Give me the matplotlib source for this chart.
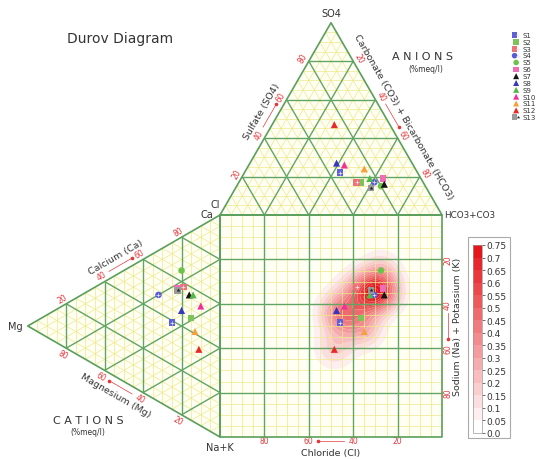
import numpy as np
import matplotlib
matplotlib.use("Agg")
import matplotlib.pyplot as plt
from matplotlib.colors import LinearSegmentedColormap, BoundaryNorm
from matplotlib.patches import Polygon, Rectangle
from matplotlib.cm import ScalarMappable
from matplotlib.legend_handler import HandlerTuple

# ---- sample chemistry (% meq/l) ----
samples = [f"S{i}" for i in range(1, 14)]
so4  = [22, 17, 17, 17, 15, 19, 16, 27, 19, 26, 24, 47, 14]
cl   = [35, 28, 30, 22, 20, 17, 18, 34, 23, 31, 23, 25, 25]
hco3 = [43, 55, 53, 61, 65, 64, 66, 39, 58, 43, 53, 28, 61]
ca   = [39, 46, 58, 48, 65, 56, 56, 47, 57, 54, 41, 34, 55]
mg   = [25, 15, 19, 32, 20, 22, 16, 20, 14, 10, 13, 11, 22]
nak  = [36, 39, 23, 20, 15, 22, 28, 33, 29, 36, 46, 55, 23]

tick_values = [20, 40, 60, 80]
cbar_levels = [0.0, 0.05, 0.1, 0.15, 0.2, 0.25, 0.3, 0.35, 0.4, 0.45,
               0.5, 0.55, 0.6, 0.65, 0.7, 0.75]
cbar_labels = ["0.0", "0.05", "0.1", "0.15", "0.2", "0.25", "0.3", "0.35",
               "0.4", "0.45", "0.5", "0.55", "0.6", "0.65", "0.7", "0.75"]

markers = ['s', 's', 's', 'o', 'o', 's', '^', '^', '^', '^', '^', '^', 's']
colors = ['#5f5fd6', '#7cc35a', '#f07272', '#5a5ad6', '#6cc24a', '#f06cb6',
          '#151515', '#3636c0', '#52b848', '#ec3399', '#f5a040', '#e62a2a',
          '#9a9a9a']
overlays = ['+', None, '+', '+', None, None, None, None, None, None, None,
            None, '*']

# ---- page geometry: 1 diagram unit = 2.22 px, square spans 0..100 ----
W, H, DPI = 537, 460, 100
PX = 2.22
X0, Y0 = 220, 216
R3 = np.sqrt(3) / 2

fig = plt.figure(figsize=(W / DPI, H / DPI), dpi=DPI)
ax = fig.add_axes([0, 0, 1, 1])
ax.set_xlim(-X0 / PX, (W - X0) / PX)
ax.set_ylim(-(H - Y0) / PX, Y0 / PX)
ax.axis('off')

MAJOR = dict(color='#62a562', lw=1.0, zorder=4, solid_capstyle='butt')
MINOR = dict(color='#eee98c', lw=0.5, zorder=3, solid_capstyle='butt')
RED = '#e4383c'
TXT = '#333333'


def seg(p, q, major):
    ax.plot([p[0], q[0]], [p[1], q[1]], **(MAJOR if major else MINOR))


def anion_xy(s, c, h):
    t = s + c + h
    s, h = 100 * s / t, 100 * h / t
    return h + s / 2, R3 * s


def cation_xy(a, m, n):
    t = a + m + n
    m, n = 100 * m / t, 100 * n / t
    return -R3 * m, -(n + m / 2)


# ---- background fills ----
fill = '#fffff4'
ax.add_patch(Polygon([(0, 0), (100, 0), (50, 100 * R3)], closed=True,
                     fc=fill, ec='none', zorder=0))
ax.add_patch(Polygon([(0, 0), (0, -100), (-100 * R3, -50)], closed=True,
                     fc=fill, ec='none', zorder=0))
ax.add_patch(Rectangle((0, -100), 100, 100, fc=fill, ec='none', zorder=0))

# ---- grids ----
for k in range(5, 100, 5):
    major = (k % 20 == 0)
    # anion triangle
    seg((k / 2, R3 * k), (100 - k / 2, R3 * k), major)
    seg((k, 0), (k + (100 - k) / 2, R3 * (100 - k)), major)
    seg((100 - k, 0), ((100 - k) / 2, R3 * (100 - k)), major)
    # cation triangle
    seg((-R3 * k, -k / 2), (-R3 * k, -(100 - k / 2)), major)
    seg((0, -k), (-R3 * (100 - k), -(k + (100 - k) / 2)), major)
    seg((0, -(100 - k)), (-R3 * (100 - k), -(100 - k) / 2), major)
    # square
    seg((k, 0), (k, -100), major)
    seg((0, -k), (100, -k), major)

border = dict(color='#5a9f5a', lw=1.2, zorder=4)
ax.plot([0, 100, 50, 0], [0, 0, 100 * R3, 0], **border)
ax.plot([0, 0, -100 * R3, 0], [0, -100, -50, 0], **border)
ax.plot([0, 100, 100, 0, 0], [0, 0, -100, -100, 0], **border)

# ---- sample positions ----
ax_pts = [anion_xy(s, c, h) for s, c, h in zip(so4, cl, hco3)]
cat_pts = [cation_xy(a, m, n) for a, m, n in zip(ca, mg, nak)]
sq_pts = [(p[0], q[1]) for p, q in zip(ax_pts, cat_pts)]

# ---- density field in the square ----
gx = np.linspace(0, 100, 401)
gy = np.linspace(-100, 0, 401)
GX, GY = np.meshgrid(gx, gy)
sigma = 6.0
Z = np.zeros_like(GX)
for x, y in sq_pts:
    Z += 0.15 * np.exp(-((GX - x) ** 2 + (GY - y) ** 2) / (2 * sigma ** 2))

cmap = LinearSegmentedColormap.from_list('heat', ['#ffffff', '#e4161c'], N=256)
cmap.set_over('#e4161c')
norm = BoundaryNorm(cbar_levels, cmap.N)
ax.contourf(GX, GY, Z, levels=cbar_levels[1:], cmap=cmap, norm=norm,
            extend='max', zorder=1, antialiased=True)

# ---- markers ----
handles = []
for i, name in enumerate(samples):
    pts = [ax_pts[i], cat_pts[i], sq_pts[i]]
    xs = [p[0] for p in pts]
    ys = [p[1] for p in pts]
    size = 26 if markers[i] == '^' else 22
    base = ax.scatter(xs, ys, s=size, marker=markers[i], c=colors[i],
                      edgecolors='none', zorder=6)
    if overlays[i] == '+':
        over = ax.scatter(xs, ys, s=12, marker='+', c='#e8e8ff',
                          linewidths=0.5, zorder=7)
        handles.append((base, over))
    elif overlays[i] == '*':
        over = ax.scatter(xs, ys, s=10, marker='*', c='#222222',
                          linewidths=0, zorder=7)
        handles.append((base, over))
    else:
        handles.append(base)

ax.legend(handles, samples, loc='upper left',
          bbox_to_anchor=(513 / W, 1 - 33 / H), frameon=False,
          fontsize=5, handlelength=0.9, handletextpad=0.4,
          labelspacing=0.12, borderaxespad=0, borderpad=0,
          markerscale=0.85, labelcolor=TXT,
          handler_map={tuple: HandlerTuple(ndivide=None)})

# ---- axis ticks, arrows and titles ----
def edge_axis(point, normal, rot, title, title_val=50, title_off=7.2):
    for v in tick_values:
        px, py = point(v)
        ax.text(px + normal[0] * 3, py + normal[1] * 3, str(v), color=RED,
                fontsize=5.5, rotation=rot, ha='center', va='center',
                rotation_mode='anchor')
    a = point(44)
    b = point(56)
    ax.plot([a[0] + normal[0] * 3, b[0] + normal[0] * 3],
            [a[1] + normal[1] * 3, b[1] + normal[1] * 3],
            color=RED, lw=0.5, zorder=5)
    ax.plot([b[0] + normal[0] * 3], [b[1] + normal[1] * 3], 'o', color=RED,
            ms=1.6, zorder=5)
    tx, ty = point(title_val)
    ax.text(tx + normal[0] * title_off, ty + normal[1] * title_off, title,
            color=TXT, fontsize=6.8, rotation=rot, ha='center', va='center',
            rotation_mode='anchor')


edge_axis(lambda v: (v / 2, R3 * v), (-R3, 0.5), 60, 'Sulfate (SO4)')
edge_axis(lambda v: (50 + v / 2, R3 * (100 - v)), (R3, 0.5), -60,
          'Carbonate (CO3) + Bicarbonate (HCO3)', title_val=53)
edge_axis(lambda v: (-R3 * (100 - v), -(100 - v) / 2), (-0.5, R3), 30,
          'Calcium (Ca)')
edge_axis(lambda v: (-R3 * v, -(100 - v / 2)), (-0.5, -R3), -30,
          'Magnesium (Mg)')
edge_axis(lambda v: (100 - v, -100), (0, -0.6), 0, 'Chloride (Cl)',
          title_off=11.5)
edge_axis(lambda v: (100, -v), (0.83, 0), 90,
          'Sodium (Na) + Potassium (K)', title_off=8.4)

# ---- colorbar ----
fig.add_artist(Rectangle((468 / W, 1 - 439 / H), 42 / W, 201 / H,
                         transform=fig.transFigure, fc='white',
                         ec='#aaaaaa', lw=0.8, zorder=-1))
cax = fig.add_axes([473 / W, 1 - 434 / H, 9 / W, 188 / H])
cb = fig.colorbar(ScalarMappable(norm=norm, cmap=cmap), cax=cax,
                  ticks=cbar_levels, spacing='uniform')
cb.ax.set_yticklabels(cbar_labels)
cb.ax.tick_params(labelsize=6.5, length=2, width=0.5, colors=TXT, pad=1)
cb.outline.set_edgecolor('#999999')
cb.outline.set_linewidth(0.5)

# ---- corner and block labels ----
ax.text(50, 91.0, 'SO4', fontsize=7, color=TXT, ha='center', va='center')
ax.text(-2.3, 5.0, 'Cl', fontsize=7, color=TXT, ha='center', va='center')
ax.text(-5.9, 0.5, 'Ca', fontsize=7, color=TXT, ha='center', va='center')
ax.text(100.9, 0, 'HCO3+CO3', fontsize=6.3, color=TXT, ha='left',
        va='center')
ax.text(-92.3, -50, 'Mg', fontsize=7, color=TXT, ha='center', va='center')
ax.text(0, -104.5, 'Na+K', fontsize=7, color=TXT, ha='center', va='center')
ax.text(-45, 79.7, 'Durov Diagram', fontsize=10, color=TXT, ha='center',
        va='center')
ax.text(91.4, 71.6, 'A N I O N S', fontsize=8, color=TXT, ha='center',
        va='center')
ax.text(92.8, 65.8, '(%meq/l)', fontsize=5.5, color=TXT, ha='center',
        va='center')
ax.text(-59.5, -92.3, 'C A T I O N S', fontsize=8, color=TXT, ha='center',
        va='center')
ax.text(-59.5, -97.3, '(%meq/l)', fontsize=5.5, color=TXT, ha='center',
        va='center')

fig.savefig('out.png', dpi=DPI)
